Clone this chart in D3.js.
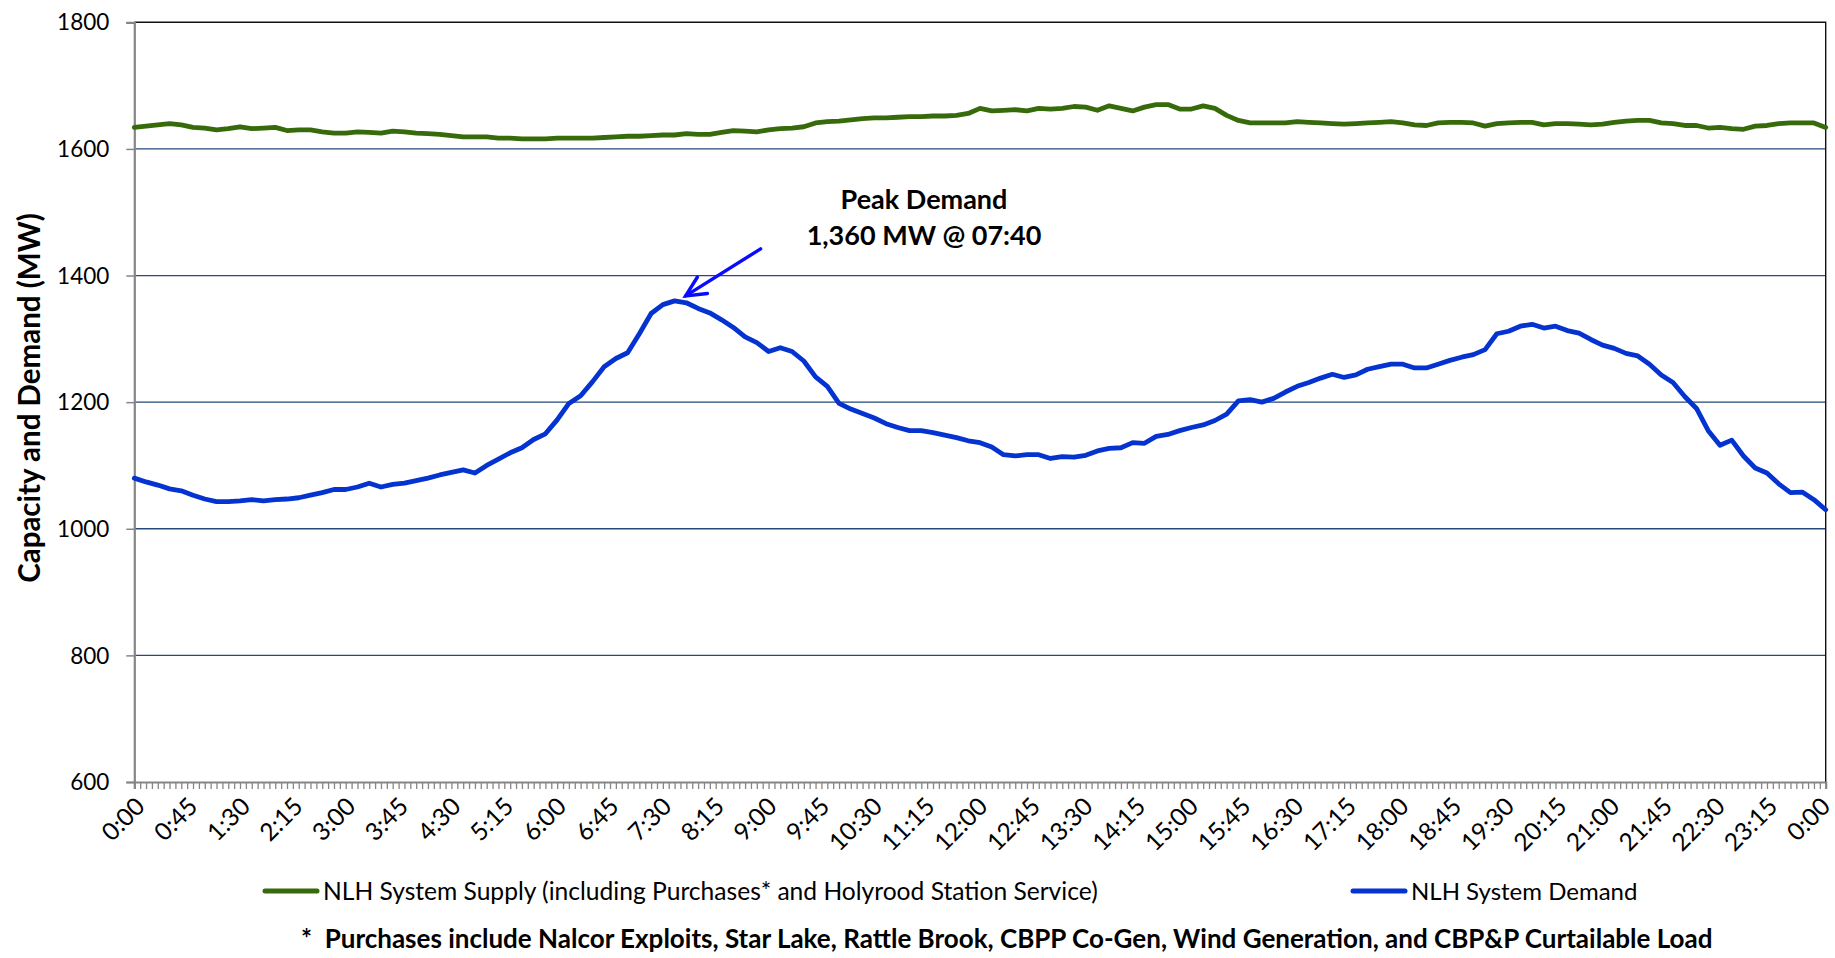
<!DOCTYPE html>
<html><head><meta charset="utf-8">
<script src="https://cdn.jsdelivr.net/npm/d3@7"></script>
<style>
body{margin:0;background:#fff}
svg{display:block}
text{font-family:Lato,"Open Sans",sans-serif;fill:#000}
</style>
</head><body>
<svg id="chart" width="1835" height="958"></svg>
<script>
// ---- data (10-minute samples from 0:00 to 24:00) ----
const stepMinutes = 10;
const supply = [
 1634,1636,1638,1640,1638,1634,1633,1630,1632,1635,
 1632,1633,1634,1629,1630,1630,1627,1625,1625,1627,
 1626,1625,1628,1627,1625,1624,1623,1621,1619,1619,
 1619,1617,1617,1616,1616,1616,1617,
 1617,1617,1617,1618,1619,1620,1620,1621,1622,1622,
 1624,1623,1623,1626,1629,1628,1627,1630,1632,1633,
 1635,1641,1643,1644,1646,1648,1649,1649,1650,1651,
 1651,1652,1652,1653,1656,1664,
 1660,1661,1662,1660,1664,1663,1664,1667,1666,1661,
 1668,1664,1660,1666,1670,1670,1663,1663,1668,1664,
 1653,1645,1641,1641,1641,1641,1643,1642,1641,1640,
 1639,1640,1641,1642,1643,1641,
 1638,1637,1641,1642,1642,1641,1636,1640,1641,1642,
 1642,1638,1640,1640,1639,1638,1639,1642,1644,1645,
 1645,1641,1640,1637,1637,1633,1634,1632,1631,1636,
 1637,1640,1641,1641,1641,1634
];
const demand = [
 1080,1074,1069,1063,1060,1053,1047,1043,1043,1044,
 1046,1044,1046,1047,1049,1053,1057,1062,1062,1066,
 1072,1066,1070,1072,1076,1080,1085,1089,1093,1088,
 1100,1110,1120,1128,1141,1150,1172,
 1198,1210,1232,1256,1269,1278,1308,1340,1354,1360,
 1357,1348,1341,1330,1318,1303,1294,1280,1286,1280,
 1265,1240,1225,1198,1189,1182,1175,1166,1160,1155,
 1155,1152,1148,1144,1139,1136,
 1129,1117,1115,1117,1117,1111,1114,1113,1116,1123,
 1127,1128,1136,1135,1146,1149,1155,1160,1164,1171,
 1181,1202,1204,1200,1206,1216,1225,1231,1238,1244,
 1239,1243,1252,1256,1260,1260,
 1254,1254,1260,1266,1271,1275,1283,1308,1312,1320,
 1323,1317,1320,1313,1309,1299,1290,1285,1277,1273,
 1260,1243,1231,1209,1190,1155,1132,1140,1115,1096,
 1088,1071,1057,1058,1046,1030
];
const tickLabels = ["0:00","0:45","1:30","2:15","3:00","3:45","4:30","5:15","6:00","6:45",
 "7:30","8:15","9:00","9:45","10:30","11:15","12:00","12:45","13:30","14:15","15:00",
 "15:45","16:30","17:15","18:00","18:45","19:30","20:15","21:00","21:45","22:30","23:15","0:00"];
const labelStep = 45;      // minutes between labels
const minorStep = 5;       // minutes between tick marks
const yTicks = [600,800,1000,1200,1400,1600,1800];
const seriesNames = ["NLH System Supply (including Purchases* and Holyrood Station Service)","NLH System Demand"];
const seriesColors = ["#376a0b","#0433cf"];
const peakMinute = 460, peakValue = 1360;
const peakText = ["Peak Demand","1,360 MW @ 07:40"];
const yTitle = "Capacity and Demand (MW)";
const footnote = "*  Purchases include Nalcor Exploits, Star Lake, Rattle Brook, CBPP Co-Gen, Wind Generation, and CBP&P Curtailable Load";

// ---- layout ----
const L = 134.3, R = 1825.7, T = 22.3, B = 782;
const svg = d3.select("#chart");
const x = d3.scaleLinear().domain([0, 1440]).range([L, R]);
const y = d3.scaleLinear().domain([600, 1800]).range([B, T]);
const minutes = supply.map((_, i) => i * stepMinutes);

// gridlines
svg.append("g").selectAll("line").data(yTicks.filter(v => v > 600 && v < 1800)).join("line")
  .attr("x1", L).attr("x2", R).attr("y1", d => y(d)).attr("y2", d => y(d))
  .attr("stroke", "#24497a").attr("stroke-width", 1.3);
// plot border top/right
svg.append("path").attr("d", `M${L},${y(1800)}H${R}V${B}`).attr("fill","none")
  .attr("stroke","#111").attr("stroke-width",1.4);

// y axis
const yAxis = svg.append("g").attr("transform", `translate(${L},0)`)
  .call(d3.axisLeft(y).tickValues(yTicks).tickSize(8).tickFormat(d3.format("d")));
yAxis.select(".domain").attr("stroke", "#868686").attr("stroke-width", 2.2);
yAxis.selectAll(".tick line").attr("stroke", "#868686").attr("stroke-width", 1.5);
yAxis.selectAll(".tick text").attr("x", -25).attr("dy","0.34em")
  .style("font-size","22.5px").style("font-family","Lato, sans-serif").attr("fill","#000");

// x axis (tick marks every 5 min)
const xAxis = svg.append("g").attr("transform", `translate(0,${B})`)
  .call(d3.axisBottom(x).tickValues(d3.range(0, 1441, minorStep)).tickSize(7).tickFormat(""));
xAxis.select(".domain").attr("stroke", "#868686").attr("stroke-width", 2.2);
xAxis.selectAll(".tick line").attr("stroke", "#868686").attr("stroke-width", 1.3);

// x labels rotated
const nL = tickLabels.length - 1;
svg.append("g").selectAll("text").data(tickLabels).join("text")
  .attr("transform", (d, i) => `translate(${x(i * labelStep) + 6 - 6 * i / nL},${B + 20}) rotate(-45)`)
  .attr("text-anchor", "end").attr("dy", "0.35em")
  .style("font-size", "24.5px").text(d => d);

// y title
svg.append("text").attr("transform", `translate(40,398) rotate(-90)`)
  .attr("text-anchor", "middle").style("font-size", "29.5px").style("font-weight", "bold")
  .text(yTitle);

// lines
const line = d3.line().x((d, i) => x(minutes[i])).y(d => y(d));
[supply, demand].forEach((s, k) => {
  svg.append("path").datum(s).attr("d", line).attr("fill", "none")
    .attr("stroke", seriesColors[k]).attr("stroke-width", 4.8)
    .attr("stroke-linejoin", "round").attr("stroke-linecap", "round");
});

// annotation
const px = x(peakMinute), py = y(peakValue);
const tip = [px + 11, py - 5], tail = [px + 86, py - 52];
const ang = Math.atan2(tail[1] - tip[1], tail[0] - tip[0]);
const head = 22, spread = 0.45;
const arrow = svg.append("g").attr("stroke", "#0a0aff").attr("stroke-width", 3.4).attr("fill","none")
  .attr("stroke-linecap","round");
arrow.append("line").attr("x1", tip[0]).attr("y1", tip[1]).attr("x2", tail[0]).attr("y2", tail[1]);
arrow.append("path").attr("d",
  `M${tip[0] + head * Math.cos(ang - spread)},${tip[1] + head * Math.sin(ang - spread)}L${tip[0]},${tip[1]}L${tip[0] + head * Math.cos(ang + spread)},${tip[1] + head * Math.sin(ang + spread)}`);
svg.append("g").selectAll("text").data(peakText).join("text")
  .attr("x", 924).attr("y", (d, i) => 209 + i * 36)
  .attr("text-anchor", "middle").style("font-size", "27px").style("font-weight", "bold")
  .text(d => d);

// legend
const leg = [{x0: 265, x1: 317, tx: 323, fs: 24.6}, {x0: 1353, x1: 1405, tx: 1411, fs: 24}];
leg.forEach((p, k) => {
  svg.append("line").attr("x1", p.x0).attr("x2", p.x1).attr("y1", 891).attr("y2", 891)
    .attr("stroke", seriesColors[k]).attr("stroke-width", 5).attr("stroke-linecap","round");
  svg.append("text").attr("x", p.tx).attr("y", 900).style("font-size", p.fs + "px").text(seriesNames[k]);
});
svg.append("text").attr("x", 301).attr("y", 948).style("font-size", "26px").style("font-weight","bold")
  .style("white-space","pre").text(footnote);
</script>
</body></html>
